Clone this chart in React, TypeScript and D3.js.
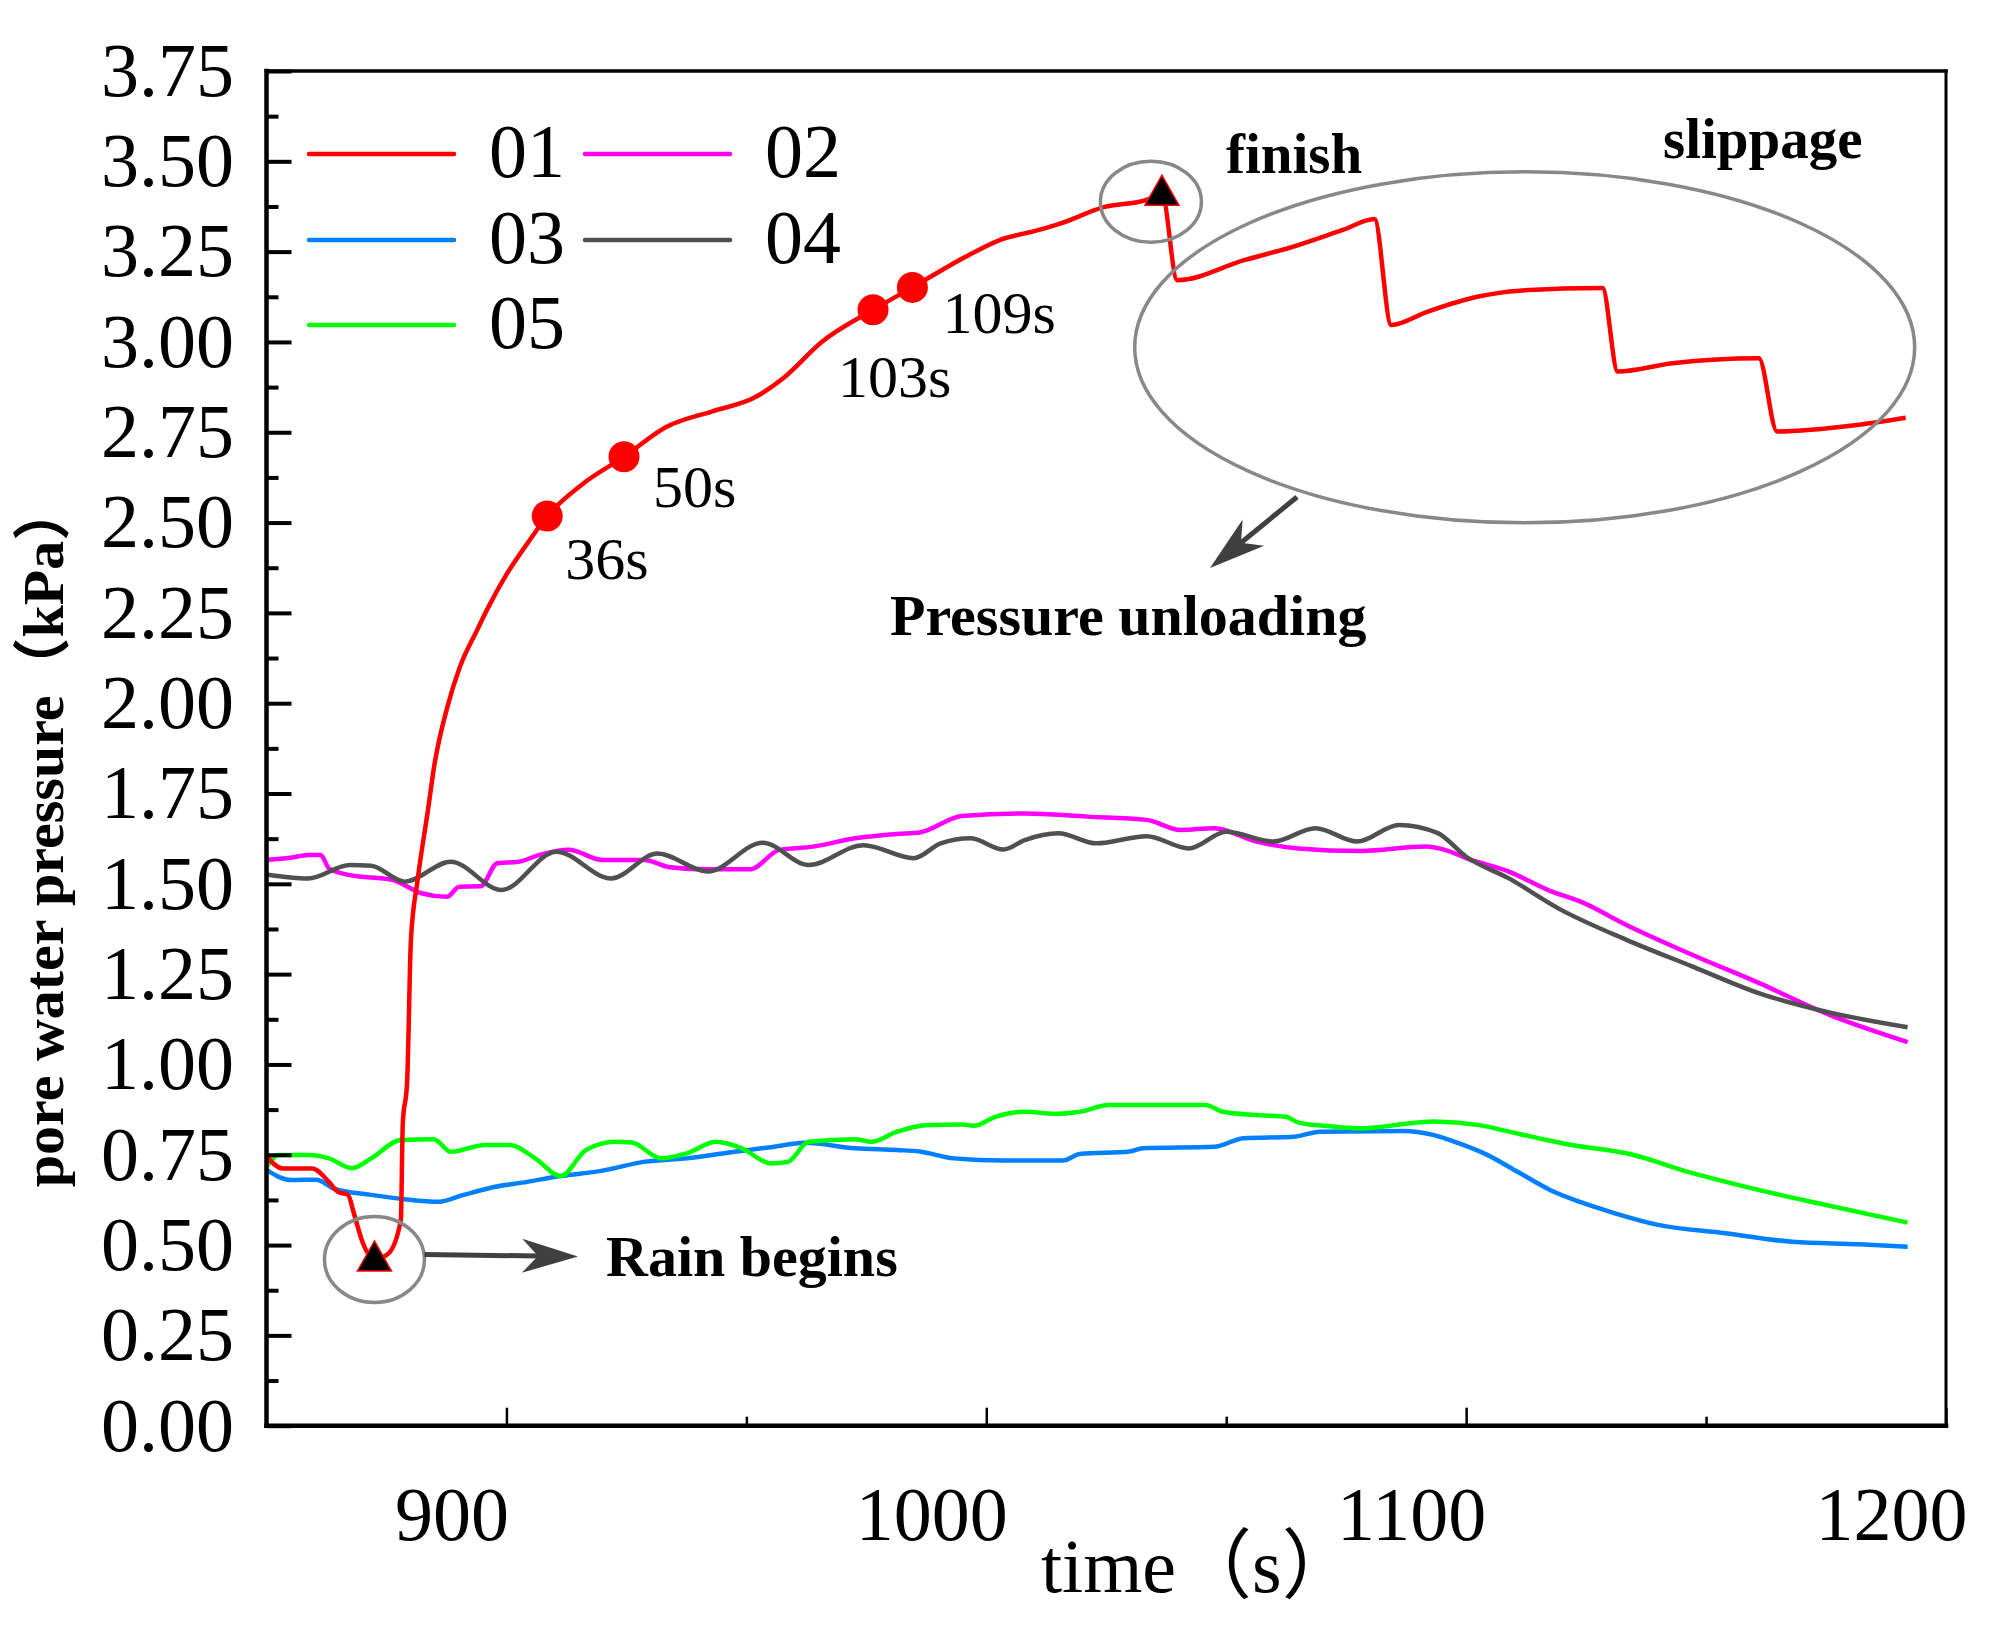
import React, { useEffect, useRef } from 'react';
import * as d3 from 'd3';

type Pt = [number, number];

// pore water pressure (kPa) against time (s)
const series01: Pt[] = [
  [850, 0.745], [853.4, 0.712], [859.5, 0.712], [863, 0.675], [864.8, 0.648], [867, 0.639],
  [868.2, 0.588], [870.1, 0.505], [872.5, 0.46], [875.3, 0.475], [878, 0.569], [878.4, 0.837],
  [879.3, 0.95], [880.1, 1.345], [881.5, 1.511], [883.6, 1.7], [885, 1.83], [887.7, 1.99],
  [890.3, 2.1], [893.8, 2.2], [896.4, 2.27], [899.9, 2.354], [904.3, 2.441], [908.5, 2.518],
  [915.7, 2.605], [924.5, 2.682], [933.2, 2.764], [942.9, 2.808], [951.7, 2.846], [957.8, 2.901],
  [965.7, 3.0], [976.4, 3.089], [984.6, 3.151], [996.4, 3.241], [1002.8, 3.282], [1011, 3.31],
  [1015.5, 3.328], [1024.5, 3.373], [1033.4, 3.393], [1036.6, 3.41], [1039.8, 3.171],
  [1053.9, 3.227], [1064, 3.264], [1074.3, 3.31], [1080.9, 3.34], [1084.4, 3.047], [1092, 3.084],
  [1102.3, 3.125], [1111.1, 3.142], [1128.4, 3.149], [1131.6, 2.918], [1143, 2.941], [1161, 2.955],
  [1164.8, 2.752], [1181.4, 2.77], [1191.6, 2.79],
];

const series02: Pt[] = [
  [850, 1.566], [855, 1.572], [858.7, 1.58], [861.3, 1.58], [863, 1.543], [867.4, 1.524],
  [876.2, 1.511], [882.3, 1.474], [887.6, 1.464], [890.2, 1.492], [894.6, 1.493], [898.1, 1.557],
  [902.5, 1.561], [906.9, 1.58], [913, 1.594], [920, 1.566], [928.8, 1.566], [934, 1.546],
  [942, 1.54], [950.7, 1.54], [956.9, 1.594], [963.9, 1.603], [972.6, 1.626], [981.4, 1.638],
  [986.1, 1.642], [994.9, 1.688], [1008, 1.695], [1021, 1.686], [1033.4, 1.677], [1040.5, 1.649],
  [1047.5, 1.654], [1056.3, 1.617], [1065, 1.598], [1078, 1.591], [1091.4, 1.603], [1096.5, 1.59],
  [1100, 1.571], [1108.9, 1.534], [1117.6, 1.48], [1124, 1.45], [1133.4, 1.386], [1147.2, 1.303],
  [1161.1, 1.225], [1175, 1.141], [1192, 1.062],
];

const series03: Pt[] = [
  [850, 0.708], [855.1, 0.68], [860.4, 0.681], [863.9, 0.657], [871.8, 0.639], [878.8, 0.627],
  [885.9, 0.62], [891.1, 0.639], [897.2, 0.66], [904.3, 0.675], [911.3, 0.691], [920, 0.706],
  [928.9, 0.731], [937.6, 0.74], [946.4, 0.756], [955.1, 0.771], [962.2, 0.783], [972.6, 0.768],
  [981.4, 0.763], [986.1, 0.759], [993.2, 0.74], [1003.6, 0.734], [1016, 0.734], [1019.5, 0.752],
  [1029.9, 0.759], [1032.6, 0.768], [1047.5, 0.772], [1053.6, 0.796], [1064.2, 0.8], [1069.5, 0.814],
  [1087, 0.816], [1093.1, 0.805], [1098.4, 0.782], [1104.5, 0.749], [1110.7, 0.703], [1117.6, 0.652],
  [1123.6, 0.62], [1131, 0.588], [1140, 0.556], [1154, 0.533], [1168, 0.509], [1182, 0.502],
  [1192, 0.495],
];

const series04: Pt[] = [
  [850, 1.526], [858.7, 1.515], [867.4, 1.552], [871.8, 1.55], [878.8, 1.506], [888.4, 1.561],
  [899, 1.483], [910.4, 1.589], [921.8, 1.515], [931.5, 1.584], [942, 1.534], [953.4, 1.614],
  [963, 1.552], [974.4, 1.607], [984.9, 1.571], [990.5, 1.612], [996.7, 1.626], [1003.6, 1.595],
  [1008, 1.621], [1015, 1.64], [1023, 1.612], [1033.4, 1.632], [1042.2, 1.598], [1050, 1.644],
  [1059.8, 1.617], [1068.6, 1.654], [1077.3, 1.617], [1086, 1.663], [1094, 1.641], [1100, 1.575],
  [1108.9, 1.515], [1119.5, 1.43], [1133.4, 1.345], [1147.2, 1.271], [1161.1, 1.197],
  [1175, 1.146], [1192, 1.103],
];

const series05: Pt[] = [
  [850, 0.717], [852.5, 0.749], [858.7, 0.749], [863, 0.74], [867.8, 0.713], [871.8, 0.74],
  [878, 0.791], [884.9, 0.793], [888.4, 0.758], [895.5, 0.777], [900.7, 0.777], [906, 0.74],
  [911.3, 0.691], [916.6, 0.763], [922.6, 0.786], [926.1, 0.784], [932.3, 0.74], [937.6, 0.754],
  [943.7, 0.786], [949, 0.768], [955.1, 0.726], [958.6, 0.73], [963, 0.786], [972.6, 0.793],
  [976.1, 0.786], [981.4, 0.814], [987.4, 0.832], [994.9, 0.834], [997.4, 0.83], [1001.9, 0.855],
  [1008, 0.869], [1014.2, 0.863], [1019.5, 0.869], [1025.5, 0.888], [1034.4, 0.888], [1045.7, 0.888],
  [1049.3, 0.869], [1056.3, 0.86], [1062.4, 0.855], [1065.1, 0.839], [1070.3, 0.83], [1078.2, 0.823],
  [1087, 0.835], [1093.1, 0.842], [1102.8, 0.832], [1108.9, 0.814], [1116, 0.793], [1122, 0.777],
  [1133.4, 0.754], [1147.2, 0.699], [1161.1, 0.652], [1175, 0.611], [1192, 0.562],
];

// marked instants on curve 01
const dotPoints: Pt[] = [[908.5, 2.518], [924.5, 2.682], [976.4, 3.089], [984.6, 3.151]];
const dotLabels = ['36s', '50s', '103s', '109s'];
const rainPoint: Pt = [872.5, 0.46];
const finishPoint: Pt = [1036.6, 3.41];
const slipCenter: Pt = [1112.2, 2.985];

const xTickValues = [900, 1000, 1100, 1200];
const xMinorValues = [950, 1050, 1150];
const yTickValues = d3.range(0, 16).map(i => i * 0.25);
const yMinorValues = d3.range(0, 15).map(i => i * 0.25 + 0.125);

const W = 1990;
const H = 1633;
const M = { left: 266.5, right: 1946, top: 71, bottom: 1425.7 };

export default function App() {
  const svgRef = useRef<SVGSVGElement>(null);

  useEffect(() => {
    document.body.style.margin = '0';
    if (!svgRef.current) return;
    const svg = d3.select(svgRef.current);
    svg.selectAll('*').remove();

    const serif = "'Liberation Serif', 'Times New Roman', 'Noto Sans CJK SC', serif";
    const x = d3.scaleLinear().domain([850, 1200]).range([M.left, M.right]);
    const y = d3.scaleLinear().domain([0, 3.75]).range([M.bottom, M.top]);

    svg.append('rect').attr('width', W).attr('height', H).attr('fill', '#fff');

    const series = [
      { key: '02', data: series02, color: '#ff00ff' },
      { key: '04', data: series04, color: '#505050' },
      { key: '03', data: series03, color: '#0080ff' },
      { key: '05', data: series05, color: '#00ff00' },
      { key: '01', data: series01, color: '#ff0000' },
    ];

    const line = d3.line<Pt>().x(d => x(d[0])).y(d => y(d[1])).curve(d3.curveMonotoneX);
    series.forEach(s => {
      svg.append('path')
        .attr('d', line(s.data))
        .attr('fill', 'none')
        .attr('stroke', s.color)
        .attr('stroke-width', 4.5)
        .attr('stroke-linejoin', 'round');
    });

    // red dots + labels
    const labelOffsets = [[18, 63], [29, 50], [-35, 87], [30, 46]];
    dotPoints.forEach((p, i) => {
      svg.append('circle').attr('cx', x(p[0])).attr('cy', y(p[1])).attr('r', 15.5).attr('fill', '#ff0000');
      svg.append('text')
        .attr('x', x(p[0]) + labelOffsets[i][0]).attr('y', y(p[1]) + labelOffsets[i][1])
        .attr('font-family', serif).attr('font-size', 60).attr('fill', '#000')
        .text(dotLabels[i]);
    });

    // triangles
    const tri = (cx: number, cy: number) => {
      const s = 34;
      const h = 30;
      svg.append('path')
        .attr('d', `M${cx},${cy - h * 0.62}L${cx + s / 2},${cy + h * 0.38}L${cx - s / 2},${cy + h * 0.38}Z`)
        .attr('fill', '#000').attr('stroke', '#ff0000').attr('stroke-width', 1.5);
    };
    tri(x(rainPoint[0]), y(rainPoint[1]));
    tri(x(finishPoint[0]), y(finishPoint[1]));

    // ellipses
    const ell = (cx: number, cy: number, rx: number, ry: number) =>
      svg.append('ellipse').attr('cx', cx).attr('cy', cy).attr('rx', rx).attr('ry', ry)
        .attr('fill', 'none').attr('stroke', '#888').attr('stroke-width', 3.5);
    ell(x(rainPoint[0]), y(rainPoint[1]), 50, 43);
    ell(x(finishPoint[0]) - 11, y(finishPoint[1]) + 8, 50.5, 40.5);
    ell(x(slipCenter[0]), y(slipCenter[1]), 390, 175.5);

    // arrows
    const arrow = (x1: number, y1: number, x2: number, y2: number) => {
      const dx = x2 - x1, dy = y2 - y1;
      const len = Math.hypot(dx, dy);
      const ux = dx / len, uy = dy / len;
      const px = -uy, py = ux;
      const hl = 56, hw = 17, notch = 40;
      svg.append('line')
        .attr('x1', x1).attr('y1', y1)
        .attr('x2', x2 - ux * notch).attr('y2', y2 - uy * notch)
        .attr('stroke', '#404040').attr('stroke-width', 5);
      const bx = x2 - ux * hl, by = y2 - uy * hl;
      const nx = x2 - ux * notch, ny = y2 - uy * notch;
      svg.append('path')
        .attr('d', `M${x2},${y2}L${bx + px * hw},${by + py * hw}L${nx},${ny}L${bx - px * hw},${by - py * hw}Z`)
        .attr('fill', '#404040');
    };
    arrow(x(rainPoint[0]) + 50, y(rainPoint[1]) - 5, 578, y(rainPoint[1]) - 3);
    arrow(1297, 497, 1210, 568);

    // annotation texts
    const note = (tx: number, ty: number, str: string, size = 58) =>
      svg.append('text').attr('x', tx).attr('y', ty)
        .attr('font-family', serif).attr('font-weight', 'bold').attr('font-size', size)
        .attr('fill', '#000').text(str);
    note(1226, 173, 'finish', 57);
    note(1663, 158, 'slippage', 57);
    note(890, 635, 'Pressure unloading');
    note(606, 1276, 'Rain begins');

    // frame
    const frame = svg.append('g').attr('stroke', '#000').attr('stroke-linecap', 'square');
    frame.append('line').attr('x1', M.left).attr('x2', M.right).attr('y1', M.top).attr('y2', M.top).attr('stroke-width', 3.5);
    frame.append('line').attr('x1', M.right).attr('x2', M.right).attr('y1', M.top).attr('y2', M.bottom).attr('stroke-width', 3);
    frame.append('line').attr('x1', M.left).attr('x2', M.left).attr('y1', M.top).attr('y2', M.bottom).attr('stroke-width', 4.5);
    frame.append('line').attr('x1', M.left).attr('x2', M.right).attr('y1', M.bottom).attr('y2', M.bottom).attr('stroke-width', 4.5);

    // y axis
    const yAx = svg.append('g').attr('transform', `translate(${M.left},0)`)
      .call(d3.axisLeft(y).tickValues(yTickValues).tickSize(-25).tickPadding(32.5).tickFormat(d => (+d).toFixed(2)));
    yAx.select('.domain').remove();
    yAx.selectAll('line').attr('stroke', '#000').attr('stroke-width', 4);
    yAx.selectAll('text').attr('font-family', serif).attr('font-size', 76).attr('fill', '#000');
    const yMin = svg.append('g').attr('transform', `translate(${M.left},0)`)
      .call(d3.axisLeft(y).tickValues(yMinorValues).tickSize(-12).tickFormat(() => ''));
    yMin.select('.domain').remove();
    yMin.selectAll('line').attr('stroke', '#000').attr('stroke-width', 4);

    // x axis
    const xAx = svg.append('g').attr('transform', `translate(0,${M.bottom})`)
      .call(d3.axisBottom(x).tickValues(xTickValues).tickSize(-18).tickPadding(60).tickFormat(d3.format('d')));
    xAx.select('.domain').remove();
    xAx.selectAll('line').attr('stroke', '#000').attr('stroke-width', 2.5);
    xAx.selectAll('text').attr('x', -55).attr('font-family', serif).attr('font-size', 76).attr('fill', '#000');
    const xMin = svg.append('g').attr('transform', `translate(0,${M.bottom})`)
      .call(d3.axisBottom(x).tickValues(xMinorValues).tickSize(-9).tickFormat(() => ''));
    xMin.select('.domain').remove();
    xMin.selectAll('line').attr('stroke', '#000').attr('stroke-width', 2.5);

    // axis titles
    svg.append('text')
      .attr('x', 1041).attr('y', 1592)
      .attr('font-family', serif).attr('font-size', 76).attr('fill', '#000')
      .text('time（s）');
    svg.append('text')
      .attr('transform', `translate(63,835) rotate(-90)`)
      .attr('text-anchor', 'middle')
      .attr('font-family', serif).attr('font-weight', 'bold').attr('font-size', 58).attr('fill', '#000')
      .text('pore water pressure（kPa）');

    // legend
    const legendItems = [
      { key: '01', color: '#ff0000', col: 0, row: 0 },
      { key: '02', color: '#ff00ff', col: 1, row: 0 },
      { key: '03', color: '#0080ff', col: 0, row: 1 },
      { key: '04', color: '#505050', col: 1, row: 1 },
      { key: '05', color: '#00ff00', col: 0, row: 2 },
    ];
    const colX = [309, 585];
    const rowY = [154, 240, 325];
    legendItems.forEach(it => {
      const lx = colX[it.col];
      const ly = rowY[it.row];
      svg.append('line').attr('x1', lx).attr('x2', lx + 145).attr('y1', ly).attr('y2', ly)
        .attr('stroke', it.color).attr('stroke-width', 4.5).attr('stroke-linecap', 'round');
      svg.append('text').attr('x', lx + 180).attr('y', ly + 23)
        .attr('font-family', serif).attr('font-size', 76).attr('fill', '#000').text(it.key);
    });
  }, []);

  return <svg ref={svgRef} width={W} height={H} viewBox={`0 0 ${W} ${H}`} style={{ display: 'block' }} />;
}
